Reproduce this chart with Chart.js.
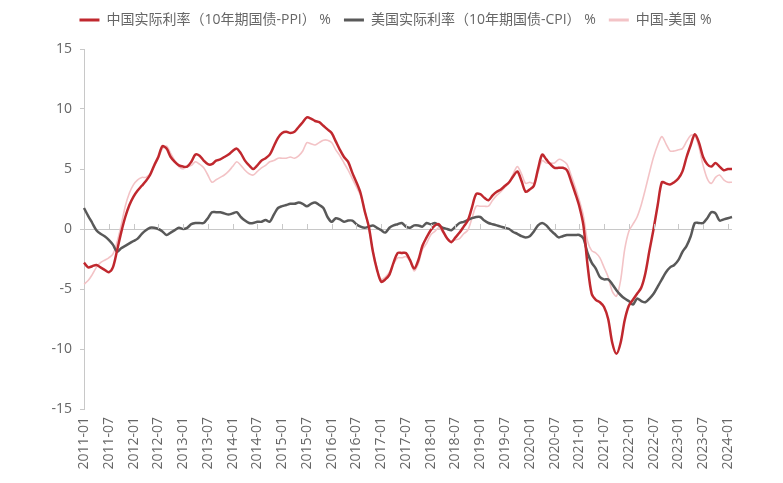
<!DOCTYPE html>
<html>
<head>
<meta charset="utf-8">
<script src="https://cdn.jsdelivr.net/npm/chart.js"></script>
<style>
  html, body { margin: 0; padding: 0; background: #fff; }
  #wrap { width: 783px; height: 483px; }
</style>
</head>
<body>
<div id="wrap"><canvas id="myChart" width="783" height="483"></canvas></div>
<script>
// monthly, 2011-01 .. 2024-02
const months = [];
for (let y = 2011; y <= 2024; y++) {
  for (let m = 1; m <= 12; m++) {
    if (y === 2024 && m > 2) break;
    months.push(y + '-' + String(m).padStart(2, '0'));
  }
}

const chinaReal = [
  -2.8, -3.2, -3.1, -3.0, -3.2, -3.4, -3.6, -3.2, -1.8, -0.3, 1.0, 2.0,
  2.7, 3.2, 3.6, 4.0, 4.5, 5.3, 6.0, 6.9, 6.7, 6.0, 5.6, 5.3,
  5.2, 5.2, 5.6, 6.2, 6.1, 5.7, 5.4, 5.4, 5.7, 5.8, 6.0, 6.2,
  6.5, 6.7, 6.3, 5.7, 5.3, 5.0, 5.3, 5.7, 5.9, 6.2, 6.9, 7.6,
  8.0, 8.1, 8.0, 8.1, 8.5, 8.9, 9.3, 9.2, 9.0, 8.9, 8.6, 8.3,
  8.0, 7.3, 6.6, 6.0, 5.6, 4.7, 3.9, 3.0, 1.5, 0.2, -1.9, -3.4,
  -4.4, -4.2, -3.8, -2.8, -2.0, -2.0, -2.0, -2.6, -3.3, -2.6, -1.4, -0.7,
  -0.1, 0.3, 0.4, -0.2, -0.8, -1.1, -0.7, -0.3, 0.2, 0.7, 1.8, 2.9,
  2.9, 2.6, 2.4, 2.8, 3.1, 3.3, 3.6, 3.9, 4.4, 4.8, 4.0, 3.1,
  3.3, 3.6, 5.0, 6.2, 5.8, 5.4, 5.1, 5.1, 5.1, 4.9, 4.0, 3.0,
  1.9, 0.3, -3.0, -5.4, -5.9, -6.1, -6.5, -7.5, -9.5, -10.4, -9.5, -7.6,
  -6.4, -5.9, -5.4, -4.9, -3.7, -1.8, 0.0, 2.0, 3.9, 3.8, 3.7, 3.9,
  4.2, 4.8, 6.0, 7.0, 7.9, 7.2, 6.0, 5.4, 5.2, 5.5, 5.2, 4.9,
  5.0, 5.0
];

const usReal = [
  1.75, 1.1, 0.5, -0.1, -0.4, -0.6, -0.9, -1.3, -1.9, -1.6, -1.4, -1.2,
  -1.0, -0.8, -0.4, -0.1, 0.1, 0.1, 0.0, -0.2, -0.5, -0.3, -0.1, 0.1,
  0.0, 0.1, 0.4, 0.5, 0.5, 0.5, 0.9, 1.4, 1.4, 1.4, 1.3, 1.2,
  1.3, 1.4, 1.0, 0.7, 0.5, 0.5, 0.6, 0.6, 0.75, 0.6, 1.2, 1.75,
  1.9, 2.0, 2.1, 2.1, 2.2, 2.1, 1.9, 2.1, 2.2, 2.0, 1.75, 1.0,
  0.6, 0.9, 0.8, 0.6, 0.7, 0.7, 0.4, 0.2, 0.1, 0.2, 0.3, 0.1,
  -0.1, -0.3, 0.1, 0.3, 0.4, 0.5, 0.2, 0.1, 0.3, 0.3, 0.2, 0.5,
  0.4, 0.5, 0.3, 0.1, 0.0, -0.1, 0.2, 0.5, 0.6, 0.75, 0.9, 1.0,
  1.0, 0.7, 0.5, 0.4, 0.3, 0.2, 0.1, 0.0, -0.25, -0.4, -0.6, -0.7,
  -0.6, -0.2, 0.3, 0.5, 0.3, -0.1, -0.4, -0.7, -0.6, -0.5, -0.5, -0.5,
  -0.5, -0.8, -2.0, -2.8, -3.3, -4.0, -4.2, -4.2, -4.6, -5.1, -5.5, -5.8,
  -6.0, -6.3, -5.8, -6.0, -6.1, -5.8, -5.4, -4.8, -4.2, -3.6, -3.2, -3.0,
  -2.6, -1.9, -1.4, -0.6, 0.5, 0.5, 0.5, 0.9, 1.4, 1.3, 0.7, 0.8,
  0.9, 1.0
];

const spread = [
  -4.6, -4.3, -3.8, -3.2, -2.8, -2.6, -2.4, -2.1, -1.1, 0.3, 1.9, 3.0,
  3.7, 4.1, 4.3, 4.3, 4.6, 5.2, 5.9, 6.7, 6.9, 6.3, 5.7, 5.2,
  5.0, 5.2, 5.3, 5.6, 5.4, 5.1, 4.5, 3.9, 4.1, 4.3, 4.5, 4.8,
  5.2, 5.6, 5.3, 4.9, 4.6, 4.5, 4.8, 5.1, 5.3, 5.6, 5.7, 5.9,
  5.9, 5.9, 6.0, 5.9, 6.1, 6.5, 7.2, 7.1, 7.0, 7.2, 7.4, 7.4,
  7.2, 6.6, 6.1, 5.5, 4.9, 4.2, 3.5, 2.8, 1.6, 0.0, -1.8, -3.3,
  -4.2, -4.0, -3.6, -2.9, -2.4, -2.4, -2.3, -2.7, -3.5, -2.9, -1.7, -1.2,
  -0.5, -0.2, 0.1, -0.3, -0.8, -1.0, -0.9, -0.8, -0.4, -0.1, 0.9, 1.9,
  1.9, 1.9, 1.9, 2.4, 2.8, 3.1, 3.5, 3.9, 4.6, 5.2, 4.6, 3.8,
  3.9, 3.8, 4.7, 5.7, 5.5, 5.5, 5.5, 5.8, 5.7, 5.4, 4.5, 3.5,
  2.4, 1.1, -1.0, -1.8, -2.0, -2.4, -3.2, -4.0, -5.2, -5.6, -4.3, -1.7,
  -0.2, 0.4, 1.0, 2.0, 3.3, 4.7, 6.0, 7.0, 7.7, 7.1, 6.5, 6.5,
  6.6, 6.7, 7.3, 7.8, 7.8, 6.8, 5.3, 4.2, 3.8, 4.3, 4.5, 4.1,
  3.9, 3.9
];

const yTicks = [-15, -10, -5, 0, 5, 10, 15];

const seriesNames = [
  '中国实际利率（10年期国债-PPI） %',
  '美国实际利率（10年期国债-CPI） %',
  '中国-美国 %'
];

const axisColor = '#c8c8c8';
const textColor = '#666666';
const fontFamily = '"Open Sans", "Noto Sans CJK SC", sans-serif';

function isLabelMonth(lbl) {
  return lbl.endsWith('-01') || lbl.endsWith('-07');
}

// small tick marks sitting on the zero line, every half year
const zeroTicks = {
  id: 'zeroTicks',
  afterDatasetsDraw(chart) {
    const x = chart.scales.x, y = chart.scales.y;
    const y0 = y.getPixelForValue(0);
    const ctx = chart.ctx;
    ctx.save();
    ctx.strokeStyle = axisColor;
    ctx.lineWidth = 1;
    ctx.beginPath();
    months.forEach((m, i) => {
      if (!isLabelMonth(m)) return;
      const px = Math.round(x.getPixelForValue(i)) + 0.5;
      ctx.moveTo(px, y0);
      ctx.lineTo(px, y0 - 5);
    });
    ctx.stroke();
    ctx.restore();
  }
};

// extra room under the legend, and centre it on the whole canvas
const legendGap = {
  id: 'legendGap',
  beforeInit(chart) {
    const fit = chart.legend.fit;
    chart.legend.fit = function () {
      fit.bind(chart.legend)();
      this.height += 12;
    };
  },
  beforeDraw(chart) {
    chart.legend.left = 0;
    chart.legend.right = chart.width + 8;
  }
};

const ctx = document.getElementById('myChart').getContext('2d');
new Chart(ctx, {
  type: 'line',
  data: {
    labels: months,
    datasets: [
      {
        label: seriesNames[0],
        data: chinaReal,
        borderColor: '#c0282e',
        backgroundColor: '#c0282e',
        borderWidth: 2.5
      },
      {
        label: seriesNames[1],
        data: usReal,
        borderColor: '#595959',
        backgroundColor: '#595959',
        borderWidth: 2.5
      },
      {
        label: seriesNames[2],
        data: spread,
        borderColor: '#f3c3c6',
        backgroundColor: '#f3c3c6',
        borderWidth: 1.6
      }
    ]
  },
  options: {
    responsive: false,
    animation: false,
    maintainAspectRatio: false,
    layout: { padding: { top: 0, right: 51, bottom: 0, left: 0 } },
    elements: {
      point: { radius: 0 },
      line: { tension: 0.3 }
    },
    plugins: {
      legend: {
        position: 'top',
        labels: {
          boxWidth: 20,
          boxHeight: 3,
          padding: 13,
          color: textColor,
          font: { family: fontFamily, size: 14 },
          generateLabels: chart =>
            Chart.defaults.plugins.legend.labels.generateLabels(chart)
              .map(l => Object.assign(l, { lineWidth: 0 }))
        }
      },
      tooltip: { enabled: false }
    },
    scales: {
      x: {
        type: 'category',
        offset: false,
        grid: { display: false, drawTicks: false },
        border: { display: false },
        ticks: {
          autoSkip: false,
          minRotation: 90,
          maxRotation: 90,
          padding: 8,
          color: textColor,
          font: { family: fontFamily, size: 14 },
          callback: function (v, i) {
            const lbl = months[i];
            return isLabelMonth(lbl) ? lbl : '';
          }
        },
        afterFit: s => { s.height = 74; }
      },
      y: {
        min: -15,
        max: 15,
        afterBuildTicks: s => { s.ticks = yTicks.map(v => ({ value: v })); },
        grid: {
          color: c => (c.tick && c.tick.value === 0) ? axisColor : 'rgba(0,0,0,0)',
          tickColor: axisColor,
          tickLength: 4,
          lineWidth: 1
        },
        border: { display: true, color: axisColor },
        ticks: {
          padding: 8,
          color: textColor,
          font: { family: fontFamily, size: 14 }
        },
        afterFit: s => { s.width = 84; }
      }
    }
  },
  plugins: [zeroTicks, legendGap]
});
</script>
</body>
</html>
